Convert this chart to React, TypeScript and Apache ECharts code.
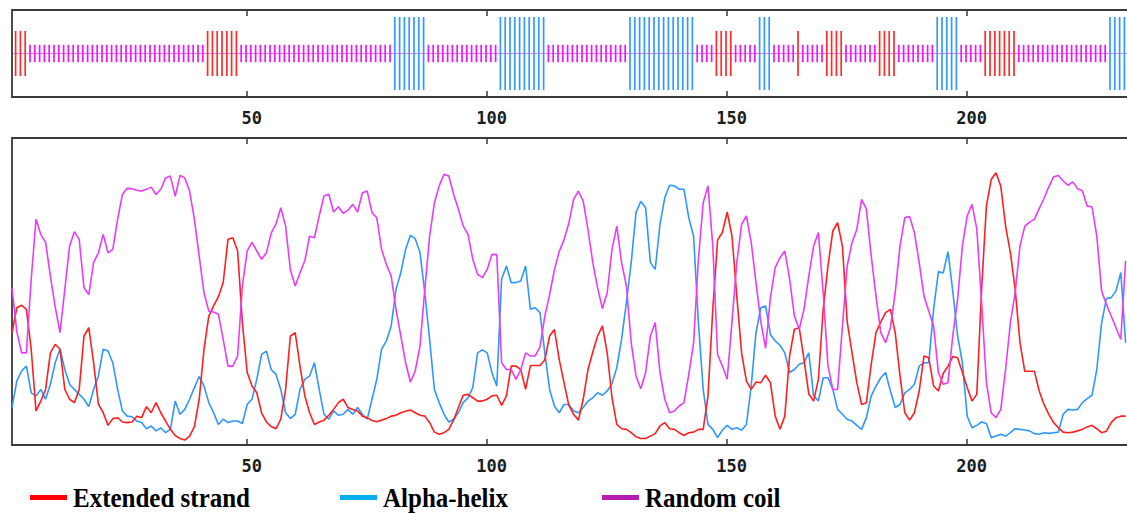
import React, { useEffect, useRef } from "react";
import * as echarts from "echarts";

// ---------- data ----------
const TICK_VALUES = [50, 100, 150, 200];

// secondary structure segments: [first residue, last residue, state]
const STRUCTURE_SEGMENTS: [number, number, string][] = [
  [1, 3, "e"], [4, 40, "c"], [41, 47, "e"], [48, 79, "c"], [80, 86, "h"],
  [87, 101, "c"], [102, 111, "h"], [112, 128, "c"], [129, 142, "h"], [143, 146, "c"],
  [147, 150, "e"], [151, 155, "c"], [156, 158, "h"], [159, 163, "c"], [164, 164, "e"],
  [165, 169, "c"], [170, 173, "e"], [174, 180, "c"], [181, 184, "e"], [185, 192, "c"],
  [193, 197, "h"], [198, 202, "c"], [203, 209, "e"], [210, 228, "c"], [229, 234, "h"],
];

// Extended strand score, residues 1..233
const STRAND = [
  0.366, 0.447, 0.455, 0.442, 0.312, 0.111, 0.143, 0.181, 0.30, 0.328,
  0.312, 0.181, 0.149, 0.138, 0.181, 0.355, 0.382, 0.268, 0.133, 0.105,
  0.064, 0.086, 0.089, 0.075, 0.073, 0.075, 0.094, 0.089, 0.125, 0.105,
  0.138, 0.105, 0.078, 0.051, 0.031, 0.021, 0.016, 0.029, 0.06, 0.149,
  0.312, 0.42, 0.453, 0.483, 0.529, 0.67, 0.675, 0.632, 0.398, 0.236,
  0.192, 0.17, 0.105, 0.075, 0.06, 0.053, 0.084, 0.181, 0.355,
  0.366, 0.257, 0.16, 0.105, 0.067, 0.075, 0.081, 0.097, 0.116, 0.138,
  0.149, 0.122, 0.116, 0.111, 0.094, 0.089, 0.08, 0.076, 0.081, 0.086,
  0.094, 0.097, 0.105, 0.11, 0.114, 0.105, 0.097, 0.094, 0.073, 0.042,
  0.035, 0.04, 0.051, 0.081, 0.122, 0.162, 0.165, 0.154, 0.143, 0.143,
  0.149, 0.16, 0.162, 0.129, 0.16, 0.257, 0.257, 0.246, 0.181, 0.259,
  0.259, 0.259, 0.277, 0.355, 0.376, 0.279, 0.203, 0.13,
  0.1, 0.081, 0.149, 0.246, 0.303, 0.355, 0.388, 0.3, 0.154, 0.067,
  0.053, 0.051, 0.04, 0.027, 0.021, 0.021, 0.029, 0.037, 0.062, 0.073,
  0.053, 0.051, 0.04, 0.031, 0.04, 0.042, 0.051, 0.051, 0.16, 0.442,
  0.668, 0.692, 0.759, 0.68, 0.485, 0.3, 0.208, 0.181, 0.205, 0.203,
  0.227, 0.203, 0.094, 0.051, 0.094, 0.29, 0.377, 0.382, 0.279, 0.166,
  0.143, 0.214, 0.442, 0.584, 0.697, 0.724, 0.648, 0.402, 0.3, 0.203,
  0.132, 0.138, 0.263, 0.366, 0.401, 0.431, 0.442, 0.366, 0.225, 0.105,
  0.081, 0.105, 0.176, 0.29, 0.284, 0.192, 0.176, 0.233, 0.257, 0.288,
  0.284, 0.236, 0.187, 0.143, 0.165, 0.507, 0.778, 0.865, 0.887, 0.843,
  0.713, 0.626, 0.507, 0.333, 0.24, 0.24, 0.24, 0.176, 0.132, 0.1,
  0.073, 0.056, 0.042, 0.04, 0.042, 0.046, 0.051, 0.059, 0.064, 0.053,
  0.04, 0.045, 0.073, 0.089, 0.094, 0.094,
];

// Alpha-helix score, residues 1..233
const HELIX = [
  0.122, 0.208, 0.241, 0.257, 0.17, 0.16, 0.181, 0.149, 0.198, 0.268,
  0.312, 0.246, 0.198, 0.181, 0.165, 0.149, 0.125, 0.181, 0.225, 0.312,
  0.306, 0.268, 0.181, 0.111, 0.094, 0.092, 0.078, 0.073, 0.053, 0.062,
  0.046, 0.056, 0.04, 0.051, 0.143, 0.1, 0.116, 0.149, 0.187, 0.223,
  0.192, 0.138, 0.105, 0.067, 0.084, 0.073, 0.078, 0.078, 0.07, 0.132,
  0.149, 0.214, 0.295, 0.306, 0.246, 0.23, 0.181, 0.105, 0.086,
  0.1, 0.181, 0.214, 0.225, 0.268, 0.181, 0.1, 0.084, 0.111, 0.097,
  0.1, 0.116, 0.1, 0.122, 0.1, 0.084, 0.149, 0.214, 0.312, 0.339,
  0.388, 0.507, 0.561, 0.637, 0.683, 0.672, 0.627, 0.496, 0.344, 0.181,
  0.138, 0.1, 0.075, 0.084, 0.105, 0.138, 0.154, 0.187, 0.3, 0.31,
  0.3, 0.235, 0.192, 0.54, 0.583, 0.529, 0.529, 0.534, 0.583, 0.442,
  0.447, 0.431, 0.3, 0.181, 0.127, 0.105, 0.132, 0.132,
  0.111, 0.105, 0.122, 0.143, 0.154, 0.17, 0.162, 0.176, 0.2, 0.252,
  0.345, 0.464, 0.594, 0.757, 0.794, 0.773, 0.594, 0.572, 0.719, 0.806,
  0.846, 0.844, 0.833, 0.833, 0.74, 0.68, 0.398, 0.181, 0.067, 0.051,
  0.024, 0.049, 0.064, 0.051, 0.056, 0.048, 0.067, 0.192, 0.366, 0.447,
  0.453, 0.36, 0.339, 0.325, 0.3, 0.236, 0.246, 0.263, 0.268, 0.3,
  0.161, 0.143, 0.219, 0.219, 0.181, 0.116, 0.1, 0.084, 0.078, 0.064,
  0.051, 0.089, 0.16, 0.192, 0.219, 0.236, 0.176, 0.122, 0.132, 0.17,
  0.181, 0.198, 0.257, 0.268, 0.268, 0.442, 0.565, 0.56, 0.63, 0.50,
  0.355, 0.268, 0.094, 0.056, 0.064, 0.075, 0.07, 0.024, 0.029, 0.035,
  0.029, 0.04, 0.053, 0.051, 0.049, 0.046, 0.037, 0.035, 0.04, 0.038,
  0.04, 0.042, 0.1, 0.116, 0.114, 0.116, 0.138, 0.151, 0.162, 0.246,
  0.398, 0.477, 0.48, 0.502, 0.562, 0.333,
];

// Random coil score, residues 1..233
const COIL = [
  0.51, 0.37, 0.30, 0.30, 0.54, 0.735, 0.686, 0.66, 0.55, 0.45,
  0.366, 0.507, 0.648, 0.695, 0.67, 0.512, 0.49, 0.594, 0.626, 0.686,
  0.626, 0.637, 0.735, 0.816, 0.836, 0.835, 0.83, 0.827, 0.833, 0.84,
  0.816, 0.833, 0.87, 0.876, 0.81, 0.878, 0.87, 0.827, 0.735, 0.615,
  0.496, 0.436, 0.433, 0.426, 0.344, 0.257, 0.257, 0.29, 0.518, 0.632,
  0.66, 0.632, 0.605, 0.626, 0.69, 0.72, 0.773, 0.713, 0.57,
  0.518, 0.561, 0.6, 0.68, 0.675, 0.746, 0.811, 0.817, 0.759, 0.776,
  0.755, 0.765, 0.784, 0.759, 0.822, 0.827, 0.757, 0.74, 0.637, 0.588,
  0.55, 0.442, 0.355, 0.268, 0.205, 0.241, 0.322, 0.507, 0.68, 0.789,
  0.844, 0.882, 0.876, 0.817, 0.768, 0.713, 0.686, 0.605, 0.556, 0.545,
  0.572, 0.621, 0.62, 0.268, 0.246, 0.246, 0.214, 0.246, 0.30, 0.29,
  0.29, 0.32, 0.42, 0.49, 0.57, 0.63, 0.668, 0.722,
  0.8, 0.827, 0.794, 0.701, 0.594, 0.512, 0.444, 0.496, 0.637, 0.713,
  0.594, 0.518, 0.333, 0.225, 0.183, 0.236, 0.355, 0.399, 0.236, 0.149,
  0.105, 0.111, 0.127, 0.138, 0.23, 0.333, 0.605, 0.789, 0.844, 0.648,
  0.295, 0.257, 0.214, 0.402, 0.594, 0.719, 0.746, 0.66, 0.529, 0.402,
  0.315, 0.48, 0.578, 0.61, 0.632, 0.54, 0.42, 0.377, 0.442, 0.55,
  0.648, 0.692, 0.496, 0.257, 0.181, 0.181, 0.386, 0.583, 0.659, 0.702,
  0.8, 0.768, 0.616, 0.485, 0.366, 0.333, 0.382, 0.496, 0.648, 0.741,
  0.744, 0.692, 0.594, 0.485, 0.436, 0.388, 0.236, 0.198, 0.203, 0.356,
  0.474, 0.648, 0.746, 0.784, 0.704, 0.464, 0.203, 0.105, 0.089, 0.116,
  0.246, 0.399, 0.497, 0.648, 0.713, 0.726, 0.735, 0.77, 0.803, 0.841,
  0.874, 0.878, 0.86, 0.846, 0.857, 0.835, 0.828, 0.778, 0.776, 0.681,
  0.502, 0.458, 0.42, 0.382, 0.344, 0.6,
];

const LEGEND_LABELS = ["Extended strand", "Alpha-helix", "Random coil"];

// ---------- styling ----------
const LINE_COLORS = { e: "#ff1f1f", h: "#2f96ff", c: "#e83cfa" };
const BAR_COLORS: Record<string, string> = { e: "#ff2a2a", h: "#3399ff", c: "#e815ff" };
const BAR_HALF: Record<string, number> = { e: 0.52, h: 0.84, c: 0.2 };
const LEGEND_COLORS = ["#ff0000", "#00aeef", "#b41cb4"];
const AXIS_COLOR = "#3a3a3a";

const PX_PER_RES = 4.8;
const X_MIN = 1;
const X_MAX = 240;
const BAR_SHIFT = 0.75;

export default function App() {
  const ref = useRef<HTMLDivElement>(null);

  useEffect(() => {
    if (!ref.current) return;
    const chart = echarts.init(ref.current, undefined, { renderer: "svg" });

    const structureData: [number, string][] = [];
    STRUCTURE_SEGMENTS.forEach(([a, b, s]) => {
      for (let r = a; r <= b; r++) structureData.push([r, s]);
    });
    const barData = structureData.map(([r, s]) => [r, BAR_HALF[s], s]);

    const lineData = (arr: number[]) => arr.map((v, i) => [i + 1, v]);

    const gridWidth = (X_MAX - X_MIN) * PX_PER_RES;

    const labelStyle = {
      show: true,
      customValues: TICK_VALUES,
      fontFamily: "DejaVu Sans Mono",
      fontWeight: "bold",
      fontSize: 17,
      color: "#1c1c1c",
      margin: 12,
      padding: [0, 0, 0, 9],
    };
    const tickStyle = {
      show: true,
      inside: true,
      length: 6,
      customValues: TICK_VALUES,
      lineStyle: { color: AXIS_COLOR, width: 1.5 },
    };
    const lineAxis = { show: true, onZero: false, lineStyle: { color: AXIS_COLOR, width: 1.8 } };

    const legendGraphics: any[] = [];
    const legendX = [30, 340, 602];
    LEGEND_LABELS.forEach((label, i) => {
      legendGraphics.push({
        type: "rect",
        shape: { x: legendX[i], y: 495, width: 37, height: 5 },
        style: { fill: LEGEND_COLORS[i] },
      });
      legendGraphics.push({
        type: "text",
        x: legendX[i] + 43,
        y: 498,
        scaleY: 1.1,
        style: {
          text: label,
          font: 'bold 25px "Liberation Serif"',
          fill: "#000",
          verticalAlign: "middle",
        },
      });
    });

    chart.setOption({
      animation: false,
      backgroundColor: "#ffffff",
      grid: [
        { left: 12, top: 10, height: 87, width: gridWidth, containLabel: false, outerBoundsMode: "none" },
        { left: 12, top: 138, height: 307, width: gridWidth, containLabel: false, outerBoundsMode: "none" },
      ],
      xAxis: [
        { type: "value", gridIndex: 0, min: X_MIN, max: X_MAX, position: "bottom", axisLine: lineAxis, axisTick: tickStyle, axisLabel: labelStyle, splitLine: { show: false } },
        { type: "value", gridIndex: 0, min: X_MIN, max: X_MAX, position: "top", axisLine: lineAxis, axisTick: tickStyle, axisLabel: { show: false }, splitLine: { show: false } },
        { type: "value", gridIndex: 0, min: X_MIN - BAR_SHIFT, max: X_MAX - BAR_SHIFT, show: false },
        { type: "value", gridIndex: 1, min: X_MIN, max: X_MAX, position: "bottom", axisLine: lineAxis, axisTick: tickStyle, axisLabel: labelStyle, splitLine: { show: false } },
        { type: "value", gridIndex: 1, min: X_MIN, max: X_MAX, position: "top", axisLine: lineAxis, axisTick: tickStyle, axisLabel: { show: false }, splitLine: { show: false } },
      ],
      yAxis: [
        { type: "value", gridIndex: 0, min: -1, max: 1, axisLine: lineAxis, axisTick: { show: false }, axisLabel: { show: false }, splitLine: { show: false } },
        { type: "value", gridIndex: 1, min: 0, max: 1, axisLine: lineAxis, axisTick: { show: false }, axisLabel: { show: false }, splitLine: { show: false } },
      ],
      series: [
        {
          type: "custom",
          name: "structure",
          xAxisIndex: 2,
          yAxisIndex: 0,
          silent: true,
          data: barData,
          encode: { x: 0, y: 1 },
          renderItem: (params: any, api: any) => {
            const x = api.value(0);
            const half = api.value(1);
            const s = barData[params.dataIndex][2] as string;
            const p1 = api.coord([x, half]);
            const p2 = api.coord([x, -half]);
            return {
              type: "line",
              shape: { x1: p1[0], y1: p1[1], x2: p2[0], y2: p2[1] },
              style: { stroke: BAR_COLORS[s], lineWidth: 1.7 },
            };
          },
          markLine: {
            silent: true,
            symbol: "none",
            label: { show: false },
            lineStyle: { color: "#f27cff", width: 1, type: "solid" },
            data: [{ yAxis: 0 }],
            z: 0,
          },
        },
        {
          type: "line",
          name: LEGEND_LABELS[1],
          xAxisIndex: 3,
          yAxisIndex: 1,
          data: lineData(HELIX),
          showSymbol: false,
          lineStyle: { color: LINE_COLORS.h, width: 1.6 },
          itemStyle: { color: LINE_COLORS.h },
        },
        {
          type: "line",
          name: LEGEND_LABELS[0],
          xAxisIndex: 3,
          yAxisIndex: 1,
          data: lineData(STRAND),
          showSymbol: false,
          lineStyle: { color: LINE_COLORS.e, width: 1.6 },
          itemStyle: { color: LINE_COLORS.e },
        },
        {
          type: "line",
          name: LEGEND_LABELS[2],
          xAxisIndex: 3,
          yAxisIndex: 1,
          data: lineData(COIL),
          showSymbol: false,
          lineStyle: { color: LINE_COLORS.c, width: 1.6 },
          itemStyle: { color: LINE_COLORS.c },
        },
      ],
      graphic: legendGraphics,
    });

    return () => chart.dispose();
  }, []);

  return (
    <div
      ref={ref}
      style={{ position: "fixed", left: 0, top: 0, width: 1127, height: 513, background: "#fff" }}
    />
  );
}
